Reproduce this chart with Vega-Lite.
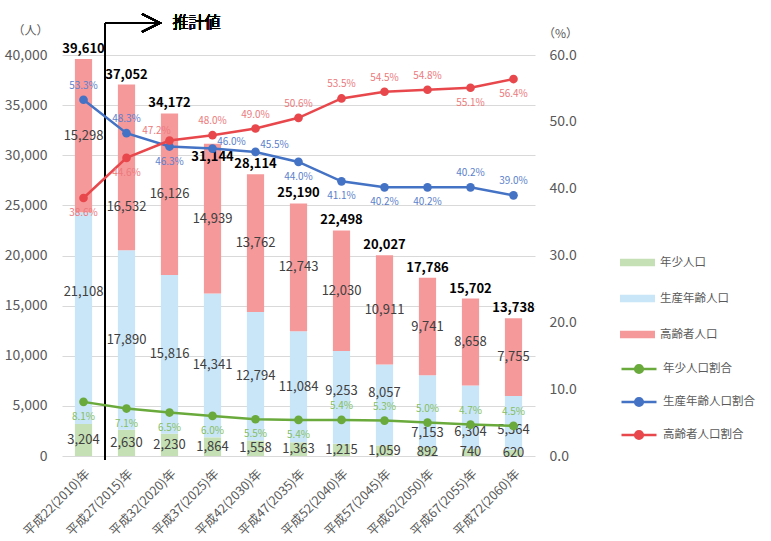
{
  "$schema": "https://vega.github.io/schema/vega-lite/v6.json",
  "width": 473,
  "height": 401,
  "autosize": "none",
  "padding": {"left": 62, "top": 55, "right": 236, "bottom": 85},
  "background": "white",
  "config": {
    "font": "Noto Sans CJK JP",
    "view": {"stroke": null},
    "axis": {"labelColor": "#595959", "labelFontSize": 14, "titleColor": "#595959", "titleFontWeight": "normal", "domain": false, "ticks": false, "gridColor": "#d9d9d9"},
    "legend": {"labelColor": "#595959", "labelFontSize": 11.5, "padding": 0},
    "locale": {"number": {"decimal": ".", "thousands": ",", "grouping": [3], "currency": ["", "%"]}}
  },
  "data": {"values": [
    {"年": "平成22(2010)年", "年少人口": 3204, "生産年齢人口": 21108, "高齢者人口": 15298, "総人口": 39610, "年少人口割合": 8.1, "生産年齢人口割合": 53.3, "高齢者人口割合": 38.6},
    {"年": "平成27(2015)年", "年少人口": 2630, "生産年齢人口": 17890, "高齢者人口": 16532, "総人口": 37052, "年少人口割合": 7.1, "生産年齢人口割合": 48.3, "高齢者人口割合": 44.6},
    {"年": "平成32(2020)年", "年少人口": 2230, "生産年齢人口": 15816, "高齢者人口": 16126, "総人口": 34172, "年少人口割合": 6.5, "生産年齢人口割合": 46.3, "高齢者人口割合": 47.2},
    {"年": "平成37(2025)年", "年少人口": 1864, "生産年齢人口": 14341, "高齢者人口": 14939, "総人口": 31144, "年少人口割合": 6.0, "生産年齢人口割合": 46.0, "高齢者人口割合": 48.0},
    {"年": "平成42(2030)年", "年少人口": 1558, "生産年齢人口": 12794, "高齢者人口": 13762, "総人口": 28114, "年少人口割合": 5.5, "生産年齢人口割合": 45.5, "高齢者人口割合": 49.0},
    {"年": "平成47(2035)年", "年少人口": 1363, "生産年齢人口": 11084, "高齢者人口": 12743, "総人口": 25190, "年少人口割合": 5.4, "生産年齢人口割合": 44.0, "高齢者人口割合": 50.6},
    {"年": "平成52(2040)年", "年少人口": 1215, "生産年齢人口": 9253, "高齢者人口": 12030, "総人口": 22498, "年少人口割合": 5.4, "生産年齢人口割合": 41.1, "高齢者人口割合": 53.5},
    {"年": "平成57(2045)年", "年少人口": 1059, "生産年齢人口": 8057, "高齢者人口": 10911, "総人口": 20027, "年少人口割合": 5.3, "生産年齢人口割合": 40.2, "高齢者人口割合": 54.5},
    {"年": "平成62(2050)年", "年少人口": 892, "生産年齢人口": 7153, "高齢者人口": 9741, "総人口": 17786, "年少人口割合": 5.0, "生産年齢人口割合": 40.2, "高齢者人口割合": 54.8},
    {"年": "平成67(2055)年", "年少人口": 740, "生産年齢人口": 6304, "高齢者人口": 8658, "総人口": 15702, "年少人口割合": 4.7, "生産年齢人口割合": 40.2, "高齢者人口割合": 55.1},
    {"年": "平成72(2060)年", "年少人口": 620, "生産年齢人口": 5364, "高齢者人口": 7755, "総人口": 13738, "年少人口割合": 4.5, "生産年齢人口割合": 39.0, "高齢者人口割合": 56.4}
  ]},
  "encoding": {
    "x": {"field": "年", "type": "nominal", "sort": null, "scale": {"paddingInner": 0.6, "paddingOuter": 0.3}, "axis": {"title": null, "labelAngle": -45, "labelFontSize": 12.5, "labelPadding": 11, "labelOverlap": false}}
  },
  "layer": [
    {
      "layer": [
        {
          "transform": [{"fold": ["年少人口", "生産年齢人口", "高齢者人口"], "as": ["区分", "人数"]}],
          "mark": {"type": "bar"},
          "encoding": {
            "y": {"field": "人数", "type": "quantitative", "stack": "zero", "scale": {"domain": [0, 40000], "nice": false},
              "axis": {"title": "（人）", "titleAngle": 0, "titleX": -32, "titleY": -25, "titleAlign": "center", "titleBaseline": "middle", "titleFontSize": 12, "values": [0, 5000, 10000, 15000, 20000, 25000, 30000, 35000, 40000], "format": ",.0f", "labelPadding": 15, "grid": true}},
            "order": {"field": "区分", "sort": "ascending"},
            "color": {"field": "区分", "type": "nominal", "scale": {"domain": ["年少人口", "生産年齢人口", "高齢者人口"], "range": ["#c5e0b4", "#c9e6f8", "#f5999b"]},
              "legend": {"orient": "none", "legendX": 558, "legendY": 190, "direction": "vertical", "title": null, "symbolType": "M-1,-0.22H1V0.22H-1Z", "symbolSize": 1225, "symbolStrokeWidth": 0, "labelOffset": 5, "rowPadding": 13}}
          }
        },
        {
          "transform": [{"fold": ["年少人口", "生産年齢人口", "高齢者人口"], "as": ["区分", "人数"]}],
          "mark": {"type": "text", "fontSize": 13, "color": "#404040"},
          "encoding": {
            "y": {"field": "人数", "type": "quantitative", "stack": "zero", "bandPosition": 0.5},
            "order": {"field": "区分", "sort": "ascending"},
            "detail": {"field": "区分"},
            "text": {"condition": {"test": {"or": [
              {"and": [{"field": "区分", "equal": "生産年齢人口"}, {"field": "年", "oneOf": ["平成22(2010)年", "平成52(2040)年", "平成57(2045)年", "平成62(2050)年", "平成67(2055)年", "平成72(2060)年"]}]},
              {"and": [{"field": "区分", "equal": "高齢者人口"}, {"field": "年", "equal": "平成27(2015)年"}]}
            ]}, "value": ""}, "field": "人数", "type": "quantitative", "format": ","}
          }
        },
        {
          "transform": [{"fold": ["年少人口", "生産年齢人口", "高齢者人口"], "as": ["区分", "人数"]}],
          "mark": {"type": "text", "fontSize": 13, "color": "#404040", "dy": -26},
          "encoding": {
            "y": {"field": "人数", "type": "quantitative", "stack": "zero", "bandPosition": 0.5},
            "order": {"field": "区分", "sort": "ascending"},
            "detail": {"field": "区分"},
            "text": {"condition": {"test": {"and": [{"field": "区分", "equal": "生産年齢人口"}, {"field": "年", "equal": "平成22(2010)年"}]}, "field": "人数", "type": "quantitative", "format": ","}, "value": ""}
          }
        },
        {
          "transform": [{"fold": ["年少人口", "生産年齢人口", "高齢者人口"], "as": ["区分", "人数"]}],
          "mark": {"type": "text", "fontSize": 13, "color": "#404040", "dy": 40},
          "encoding": {
            "y": {"field": "人数", "type": "quantitative", "stack": "zero", "bandPosition": 0.5},
            "order": {"field": "区分", "sort": "ascending"},
            "detail": {"field": "区分"},
            "text": {"condition": {"test": {"and": [{"field": "区分", "equal": "高齢者人口"}, {"field": "年", "equal": "平成27(2015)年"}]}, "field": "人数", "type": "quantitative", "format": ","}, "value": ""}
          }
        },
        {
          "transform": [{"fold": ["年少人口", "生産年齢人口", "高齢者人口"], "as": ["区分", "人数"]}],
          "mark": {"type": "text", "fontSize": 13, "color": "#404040", "dy": -6},
          "encoding": {
            "y": {"field": "人数", "type": "quantitative", "stack": "zero", "bandPosition": 0.5},
            "order": {"field": "区分", "sort": "ascending"},
            "detail": {"field": "区分"},
            "text": {"condition": {"test": {"and": [{"field": "区分", "equal": "生産年齢人口"}, {"field": "年", "equal": "平成52(2040)年"}]}, "field": "人数", "type": "quantitative", "format": ","}, "value": ""}
          }
        },
        {
          "transform": [{"fold": ["年少人口", "生産年齢人口", "高齢者人口"], "as": ["区分", "人数"]}],
          "mark": {"type": "text", "fontSize": 13, "color": "#404040", "dy": -12},
          "encoding": {
            "y": {"field": "人数", "type": "quantitative", "stack": "zero", "bandPosition": 0.5},
            "order": {"field": "区分", "sort": "ascending"},
            "detail": {"field": "区分"},
            "text": {"condition": {"test": {"and": [{"field": "区分", "equal": "生産年齢人口"}, {"field": "年", "equal": "平成57(2045)年"}]}, "field": "人数", "type": "quantitative", "format": ","}, "value": ""}
          }
        },
        {
          "transform": [{"fold": ["年少人口", "生産年齢人口", "高齢者人口"], "as": ["区分", "人数"]}],
          "mark": {"type": "text", "fontSize": 13, "color": "#404040", "dy": 22},
          "encoding": {
            "y": {"field": "人数", "type": "quantitative", "stack": "zero", "bandPosition": 0.5},
            "order": {"field": "区分", "sort": "ascending"},
            "detail": {"field": "区分"},
            "text": {"condition": {"test": {"and": [{"field": "区分", "equal": "生産年齢人口"}, {"field": "年", "equal": "平成62(2050)年"}]}, "field": "人数", "type": "quantitative", "format": ","}, "value": ""}
          }
        },
        {
          "transform": [{"fold": ["年少人口", "生産年齢人口", "高齢者人口"], "as": ["区分", "人数"]}],
          "mark": {"type": "text", "fontSize": 13, "color": "#404040", "dy": 15},
          "encoding": {
            "y": {"field": "人数", "type": "quantitative", "stack": "zero", "bandPosition": 0.5},
            "order": {"field": "区分", "sort": "ascending"},
            "detail": {"field": "区分"},
            "text": {"condition": {"test": {"and": [{"field": "区分", "equal": "生産年齢人口"}, {"field": "年", "equal": "平成67(2055)年"}]}, "field": "人数", "type": "quantitative", "format": ","}, "value": ""}
          }
        },
        {
          "transform": [{"fold": ["年少人口", "生産年齢人口", "高齢者人口"], "as": ["区分", "人数"]}],
          "mark": {"type": "text", "fontSize": 13, "color": "#404040", "dy": 7},
          "encoding": {
            "y": {"field": "人数", "type": "quantitative", "stack": "zero", "bandPosition": 0.5},
            "order": {"field": "区分", "sort": "ascending"},
            "detail": {"field": "区分"},
            "text": {"condition": {"test": {"and": [{"field": "区分", "equal": "生産年齢人口"}, {"field": "年", "equal": "平成72(2060)年"}]}, "field": "人数", "type": "quantitative", "format": ","}, "value": ""}
          }
        },
        {
          "mark": {"type": "text", "fontSize": 13, "fontWeight": "bold", "baseline": "bottom", "dy": -3, "color": "#000000"},
          "encoding": {
            "y": {"field": "総人口", "type": "quantitative"},
            "text": {"condition": {"test": {"field": "年", "equal": "平成37(2025)年"}, "value": ""}, "field": "総人口", "type": "quantitative", "format": ","}
          }
        },
        {
          "mark": {"type": "text", "fontSize": 13, "fontWeight": "bold", "baseline": "bottom", "dy": 20, "color": "#000000"},
          "encoding": {
            "y": {"field": "総人口", "type": "quantitative"},
            "text": {"condition": {"test": {"field": "年", "equal": "平成37(2025)年"}, "field": "総人口", "type": "quantitative", "format": ","}, "value": ""}
          }
        },
        {
          "mark": {"type": "rule", "color": "#000000", "strokeWidth": 2},
          "encoding": {
            "x": {"datum": "平成27(2015)年", "type": "nominal", "bandPosition": -0.75},
            "y": {"datum": 43200, "type": "quantitative"},
            "y2": {"datum": -400}
          }
        },
        {
          "mark": {"type": "point", "shape": "M0,0H55M37,-9L55,0L37,9", "size": 4, "filled": false, "stroke": "#000000", "strokeWidth": 1.8, "opacity": 1},
          "encoding": {
            "x": {"datum": "平成27(2015)年", "type": "nominal", "bandPosition": -0.75},
            "y": {"datum": 43200, "type": "quantitative"}
          }
        },
        {
          "mark": {"type": "text", "text": "推計値", "fontSize": 16, "fontWeight": "normal", "align": "left", "baseline": "middle", "dx": 3, "color": "#000000"},
          "encoding": {
            "x": {"datum": "平成32(2020)年", "type": "nominal", "bandPosition": 0.5},
            "y": {"datum": 43200, "type": "quantitative"}
          }
        }
      ]
    },
    {
      "transform": [{"fold": ["年少人口割合", "生産年齢人口割合", "高齢者人口割合"], "as": ["系列", "割合"]}],
      "encoding": {
        "y": {"field": "割合", "type": "quantitative", "scale": {"domain": [0, 60], "nice": false},
          "axis": {"orient": "right", "title": "（%）", "titleAngle": 0, "titleX": 25, "titleY": -22, "titleAlign": "center", "titleBaseline": "middle", "titleFontSize": 12, "values": [0, 10, 20, 30, 40, 50, 60], "format": ".1f", "labelPadding": 14, "grid": false}}
      },
      "layer": [
        {
          "mark": {"type": "line", "strokeWidth": 2.5},
          "encoding": {
            "color": {"field": "系列", "type": "nominal", "scale": {"domain": ["年少人口割合", "生産年齢人口割合", "高齢者人口割合"], "range": ["#6aaa3c", "#4472c4", "#e8474b"]},
              "legend": {"orient": "none", "legendX": 558, "legendY": 295, "direction": "vertical", "title": null, "symbolType": "M-1,0H1M0.22,0A0.22,0.22,0,1,1,-0.22,0A0.22,0.22,0,1,1,0.22,0Z", "symbolSize": 1225, "symbolStrokeWidth": 2.5, "labelOffset": 5, "rowPadding": 5}}
          }
        },
        {
          "mark": {"type": "point", "filled": true, "size": 75, "opacity": 1},
          "encoding": {
            "color": {"field": "系列", "type": "nominal"}
          }
        },
        {
          "transform": [{"filter": {"or": [
            {"and": [{"field": "系列", "equal": "高齢者人口割合"}, {"field": "年", "oneOf": ["平成22(2010)年", "平成27(2015)年", "平成67(2055)年", "平成72(2060)年"]}]},
            {"and": [{"field": "系列", "equal": "生産年齢人口割合"}, {"field": "年", "oneOf": ["平成32(2020)年", "平成47(2035)年", "平成52(2040)年", "平成57(2045)年", "平成62(2050)年"]}]},
            {"and": [{"field": "系列", "equal": "年少人口割合"}, {"field": "年", "oneOf": ["平成22(2010)年", "平成27(2015)年", "平成32(2020)年", "平成37(2025)年", "平成42(2030)年", "平成47(2035)年"]}]}
          ]}}],
          "mark": {"type": "text", "fontSize": 10, "dy": 15},
          "encoding": {
            "text": {"field": "割合", "type": "quantitative", "format": "$.1f"},
            "fill": {"field": "系列", "type": "nominal", "scale": {"domain": ["年少人口割合", "生産年齢人口割合", "高齢者人口割合"], "range": ["#86bd63", "#5b7fcb", "#ec7a7c"]}, "legend": null}
          }
        },
        {
          "transform": [{"filter": {"and": [{"field": "系列", "equal": "生産年齢人口割合"}, {"field": "年", "oneOf": ["平成37(2025)年", "平成42(2030)年"]}]}}],
          "mark": {"type": "text", "fontSize": 10, "dx": 19, "dy": -7},
          "encoding": {
            "text": {"field": "割合", "type": "quantitative", "format": "$.1f"},
            "fill": {"field": "系列", "type": "nominal", "legend": null}
          }
        },
        {
          "transform": [{"filter": {"and": [{"field": "系列", "equal": "高齢者人口割合"}, {"field": "年", "equal": "平成32(2020)年"}]}}],
          "mark": {"type": "text", "fontSize": 10, "dx": -13, "dy": -10},
          "encoding": {
            "text": {"field": "割合", "type": "quantitative", "format": "$.1f"},
            "fill": {"field": "系列", "type": "nominal", "legend": null}
          }
        },
        {
          "transform": [{"filter": {"not": {"or": [
            {"and": [{"field": "系列", "equal": "高齢者人口割合"}, {"field": "年", "oneOf": ["平成22(2010)年", "平成27(2015)年", "平成32(2020)年", "平成67(2055)年", "平成72(2060)年"]}]},
            {"and": [{"field": "系列", "equal": "生産年齢人口割合"}, {"field": "年", "oneOf": ["平成32(2020)年", "平成47(2035)年", "平成52(2040)年", "平成57(2045)年", "平成62(2050)年", "平成37(2025)年", "平成42(2030)年"]}]},
            {"and": [{"field": "系列", "equal": "年少人口割合"}, {"field": "年", "oneOf": ["平成22(2010)年", "平成27(2015)年", "平成32(2020)年", "平成37(2025)年", "平成42(2030)年", "平成47(2035)年"]}]}
          ]}}}],
          "mark": {"type": "text", "fontSize": 10, "dy": -14},
          "encoding": {
            "text": {"field": "割合", "type": "quantitative", "format": "$.1f"},
            "fill": {"field": "系列", "type": "nominal", "legend": null}
          }
        }
      ]
    }
  ],
  "resolve": {"scale": {"y": "independent", "color": "independent"}}
}
